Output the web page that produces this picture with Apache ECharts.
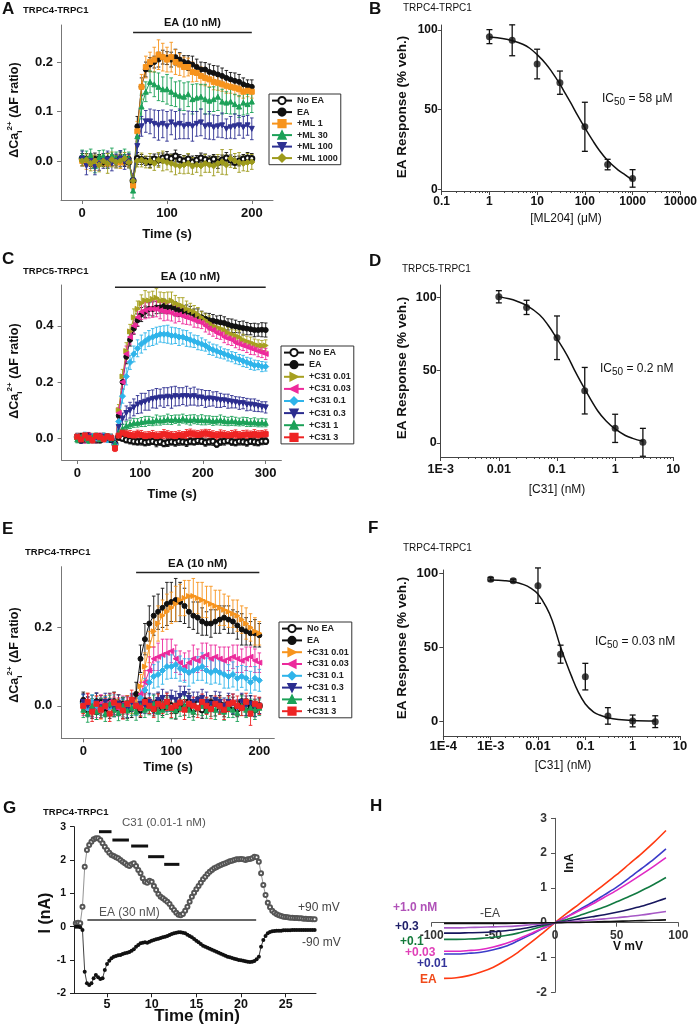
<!DOCTYPE html>
<html><head><meta charset="utf-8">
<script src="https://cdn.jsdelivr.net/npm/echarts@6/dist/echarts.min.js"></script>
<style>html,body{margin:0;padding:0;background:#fff}#c{width:700px;height:1028px}</style>
</head><body><div id="c"></div>
<script>
// ---------- Panel A data (TRPC4-TRPC1, ML204) ----------
const tA = [0,5,10,15,20,25,30,35,40,45,50,55,60,65,70,75,80,85,90,95,100,105,110,115,120,125,130,135,140,145,150,155,160,165,170,175,180,185,190,195,200];
const aNoEA = [0.005,0.0,0.003,-0.002,0.004,0.0,-0.003,0.002,0.0,0.004, 0.001,-0.002,-0.04,0.005,0.003,0.0,-0.002,0.004,0.002,0.006, 0.008,0.005,0.01,0.003,0.0,0.004,-0.002,0.002,0.006,0.003, 0.0,0.004,-0.003,0.002,0.006,0.002,-0.003,0.0,0.004,0.006, 0.005];
const aEA = [0.003,0.005,-0.002,0.004,0.002,-0.003,0.005,0.0,0.003,0.006, 0.0,0.004,-0.045,0.07,0.15,0.185,0.195,0.2,0.205,0.21, 0.208,0.205,0.21,0.205,0.2,0.198,0.195,0.19,0.185,0.185, 0.18,0.178,0.175,0.172,0.168,0.165,0.162,0.16,0.155,0.152, 0.15];
const aML1 = [0.0,-0.005,0.005,-0.008,0.0,0.003,-0.005,0.002,0.0,-0.003, 0.002,0.0,-0.05,0.06,0.15,0.19,0.2,0.205,0.215,0.21, 0.205,0.21,0.2,0.195,0.19,0.19,0.18,0.178,0.172,0.168, 0.165,0.16,0.158,0.155,0.152,0.15,0.148,0.145,0.14,0.142, 0.14];
const aML30 = [0.01,0.005,0.012,-0.01,0.008,0.01,0.0,0.012,0.005,0.008, 0.01,0.005,-0.06,0.05,0.11,0.14,0.16,0.155,0.15,0.145, 0.145,0.14,0.135,0.132,0.13,0.135,0.125,0.128,0.13,0.125, 0.122,0.125,0.13,0.12,0.118,0.12,0.115,0.11,0.118,0.115, 0.12];
const aML100 = [0.005,-0.01,0.0,-0.012,-0.005,0.0,0.003,-0.005,0.0,0.005, -0.002,0.0,-0.04,0.03,0.07,0.08,0.08,0.075,0.072,0.075, 0.07,0.078,0.072,0.075,0.07,0.073,0.07,0.075,0.078,0.07, 0.072,0.068,0.07,0.072,0.065,0.068,0.07,0.072,0.068,0.072, 0.065];
const aML1000 = [0.0,0.002,-0.005,0.0,-0.008,0.0,-0.005,0.003,-0.002,0.0, 0.005,-0.003,-0.04,0.0,0.002,-0.002,0.0,-0.005,0.002,0.0, -0.003,-0.005,-0.008,-0.01,-0.008,-0.005,-0.01,-0.008,-0.01,-0.005, -0.008,-0.01,-0.005,-0.002,-0.008,0.005,0.0,-0.003,-0.005,-0.003, -0.002];
const aErrNoEA = [.01,.008,.01,.012,.009,.01,.008,.011,.01,.009, .012,.01,.01,.012,.01,.009,.011,.01,.012,.01, .011,.009,.012,.01,.011,.01,.012,.009,.01,.011, .01,.009,.012,.01,.011,.01,.012,.01,.009,.011, .01];
const aErrEA = [.008,.01,.009,.012,.01,.008,.011,.01,.009,.012, .01,.01,.012,.02,.018,.015,.014,.012,.015,.014, .013,.015,.016,.014,.013,.015,.017,.016,.015,.014, .016,.015,.017,.016,.015,.014,.016,.015,.013,.012, .014];
const aErrML1 = [.01,.012,.01,.011,.009,.012,.01,.011,.01,.012, .01,.011,.012,.02,.025,.022,.02,.025,.03,.028, .025,.03,.025,.022,.02,.018,.02,.017,.018,.016, .015,.016,.015,.014,.015,.013,.014,.015,.013,.012, .013];
const aErrML30 = [.012,.015,.012,.014,.013,.012,.015,.014,.013,.012, .014,.013,.015,.02,.025,.02,.022,.025,.028,.025, .03,.028,.025,.03,.028,.025,.03,.028,.025,.03, .027,.025,.028,.025,.022,.025,.02,.022,.025,.02, .022];
const aErrML100 = [.015,.018,.015,.016,.014,.015,.017,.015,.014,.016, .015,.014,.015,.02,.02,.022,.025,.028,.03,.028, .03,.025,.028,.03,.025,.028,.03,.025,.027,.025, .028,.025,.022,.025,.02,.022,.025,.02,.022,.02, .022];
const aErrML1000 = [.01,.012,.015,.012,.014,.012,.02,.015,.012,.014, .012,.011,.012,.012,.014,.012,.015,.014,.015,.02, .015,.017,.02,.015,.018,.02,.017,.015,.02,.018, .015,.02,.018,.025,.02,.018,.015,.02,.015,.018, .015];

// ---------- Panel C data (TRPC5-TRPC1, C31) ----------
const tC = [0,6,12,18,24,30,36,42,48,54, 60,66,72,78,84,90,96,102,108,114, 120,126,132,138,144,150,156,162,168,174, 180,186,192,198,204,210,216,222,228,234, 240,246,252,258,264,270,276,282,288,294, 300];
const cNoEA = [0.005,-0.005,0.0,0.008,-0.003,0.004,-0.006,0.002,0.0,-0.004, -0.02,0.005,0.0,-0.005,-0.008,-0.01,-0.012,-0.01,-0.015,-0.012, -0.01,-0.015,-0.012,-0.018,-0.015,-0.012,-0.015,-0.01,-0.012,-0.015, -0.01,-0.012,-0.008,-0.01,-0.015,-0.012,-0.01,-0.02,-0.012,-0.01, -0.008,-0.012,-0.015,-0.01,-0.012,-0.015,-0.01,-0.012,-0.015,-0.01, -0.01];
const cEA = [0.0,0.008,-0.004,0.005,0.0,-0.005,0.006,0.0,0.004,-0.003, -0.025,0.08,0.2,0.29,0.35,0.39,0.42,0.44,0.45,0.46, 0.46,0.465,0.465,0.47,0.465,0.465,0.46,0.455,0.452,0.45, 0.447,0.44,0.435,0.43,0.425,0.42,0.418,0.415,0.412,0.41, 0.405,0.4,0.398,0.395,0.392,0.39,0.388,0.385,0.385,0.386, 0.385];
const cC001 = [0.005,-0.003,0.008,0.0,0.006,-0.004,0.003,0.007,-0.002,0.004, -0.03,0.1,0.22,0.31,0.38,0.43,0.46,0.48,0.49,0.49, 0.495,0.5,0.49,0.49,0.485,0.49,0.48,0.475,0.47,0.46, 0.455,0.45,0.44,0.43,0.42,0.41,0.4,0.395,0.39,0.385, 0.375,0.37,0.365,0.36,0.35,0.345,0.34,0.335,0.33,0.33, 0.33];
const cC003 = [0.0,0.006,-0.005,0.01,0.002,-0.004,0.008,-0.002,0.005,0.0, -0.03,0.09,0.2,0.3,0.36,0.4,0.43,0.45,0.455,0.46, 0.46,0.46,0.455,0.45,0.45,0.445,0.44,0.44,0.435,0.43, 0.425,0.42,0.415,0.41,0.4,0.39,0.385,0.375,0.37,0.36, 0.355,0.35,0.34,0.335,0.33,0.325,0.32,0.315,0.31,0.305, 0.3];
const cC01 = [0.008,0.0,0.01,-0.004,0.006,0.0,0.004,0.008,-0.003,0.005, -0.02,0.06,0.15,0.22,0.27,0.3,0.32,0.335,0.345,0.355, 0.36,0.365,0.37,0.37,0.37,0.365,0.365,0.36,0.36,0.355, 0.35,0.345,0.34,0.335,0.33,0.32,0.315,0.31,0.305,0.3, 0.295,0.29,0.285,0.28,0.275,0.27,0.265,0.26,0.26,0.255, 0.255];
const cC03 = [0.004,-0.006,0.002,0.006,-0.004,0.003,-0.002,0.005,0.0,-0.005, -0.025,0.04,0.07,0.09,0.1,0.11,0.12,0.125,0.13,0.135, 0.14,0.142,0.145,0.145,0.148,0.145,0.15,0.148,0.15,0.15, 0.148,0.15,0.145,0.145,0.14,0.142,0.14,0.138,0.135,0.135, 0.132,0.13,0.128,0.125,0.125,0.12,0.12,0.118,0.115,0.112, 0.11];
const cC1 = [-0.004,0.005,0.0,-0.006,0.004,0.008,-0.003,0.002,0.006,0.0, -0.02,0.02,0.035,0.045,0.05,0.055,0.055,0.058,0.06,0.062, 0.06,0.065,0.063,0.065,0.068,0.065,0.068,0.065,0.07,0.066, 0.065,0.068,0.065,0.066,0.064,0.065,0.062,0.063,0.065,0.062, 0.06,0.062,0.06,0.058,0.06,0.058,0.056,0.058,0.055,0.056, 0.055];
const cC3 = [0.006,-0.004,0.01,0.002,-0.006,0.008,0.004,-0.002,0.006,0.002, -0.035,0.01,0.02,0.015,0.012,0.01,0.015,0.012,0.008,0.01, 0.012,0.008,0.01,0.015,0.012,0.01,0.008,0.012,0.01,0.015, 0.018,0.015,0.012,0.015,0.018,0.015,0.012,0.01,0.014,0.012, 0.01,0.012,0.015,0.01,0.012,0.014,0.012,0.015,0.012,0.014, 0.015];
const cErrNoEA = [.01,.012,.01,.011,.01,.012,.01,.011,.012,.01, .01,.012,.01,.011,.012,.013,.012,.014,.012,.013, .012,.015,.013,.012,.014,.012,.013,.015,.012,.014, .013,.012,.014,.012,.013,.012,.015,.012,.013,.014, .012,.013,.012,.014,.012,.013,.012,.014,.012,.013, .012];
const cErrEA = [.012,.01,.012,.011,.01,.012,.011,.01,.012,.011, .012,.02,.025,.025,.022,.02,.022,.025,.02,.022, .025,.022,.02,.025,.022,.02,.025,.022,.02,.024, .022,.02,.025,.022,.02,.024,.022,.02,.025,.022, .02,.024,.022,.02,.025,.022,.02,.024,.022,.025, .025];
const cErrC001 = [.01,.012,.01,.011,.012,.01,.011,.012,.01,.011, .012,.02,.025,.03,.025,.03,.028,.03,.035,.03, .028,.032,.03,.028,.035,.03,.028,.025,.03,.028, .025,.022,.025,.02,.022,.025,.02,.022,.02,.022, .02,.018,.02,.022,.02,.018,.02,.018,.02,.018, .02];
const cErrC003 = [.012,.01,.012,.011,.01,.012,.011,.01,.012,.011, .012,.02,.025,.028,.025,.028,.03,.028,.03,.032, .03,.028,.03,.032,.03,.028,.03,.025,.028,.025, .022,.025,.022,.02,.022,.02,.022,.02,.018,.02, .022,.02,.018,.02,.018,.02,.022,.018,.02,.018, .02];
const cErrC01 = [.01,.011,.012,.01,.011,.012,.01,.011,.012,.01, .012,.02,.025,.03,.025,.028,.03,.032,.03,.028, .03,.03,.028,.03,.032,.03,.028,.03,.025,.028, .025,.022,.025,.022,.02,.022,.02,.022,.02,.018, .02,.018,.02,.018,.02,.018,.02,.018,.016,.018, .016];
const cErrC03 = [.01,.012,.011,.01,.012,.011,.01,.012,.011,.01, .012,.015,.02,.025,.028,.03,.032,.035,.03,.035, .032,.035,.03,.035,.032,.038,.035,.032,.03,.035, .03,.032,.03,.028,.03,.028,.025,.028,.025,.022, .025,.022,.02,.022,.02,.022,.02,.022,.02,.018, .02];
const cErrC1 = [.012,.01,.011,.012,.01,.011,.012,.01,.011,.012, .01,.012,.015,.014,.015,.016,.015,.016,.018,.016, .015,.018,.016,.015,.018,.016,.015,.018,.016,.015, .018,.016,.015,.018,.016,.015,.016,.015,.018,.016, .015,.016,.015,.014,.015,.016,.014,.015,.014,.015, .014];
const cErrC3 = [.012,.011,.01,.012,.011,.01,.012,.011,.01,.012, .012,.014,.015,.014,.016,.015,.014,.016,.015,.014, .016,.015,.014,.016,.015,.014,.016,.015,.014,.016, .015,.014,.016,.015,.014,.016,.015,.014,.016,.015, .014,.016,.015,.014,.016,.015,.014,.016,.015,.014, .015];

// ---------- Panel E data (TRPC4-TRPC1, C31) ----------
const tE = [0,5,10,15,20,25,30,35,40,45,50,55,60,65,70,75,80,85,90,95,100,105,110,115,120,125,130,135,140,145,150,155,160,165,170,175,180,185,190,195,200];
const eNoEA = [0.01,-0.01,0.005,-0.015,0.008,0.0,-0.012,0.01,-0.005,0.003, -0.01,0.005,0.0,-0.01,0.012,0.0,-0.008,0.01,-0.005,0.008, 0.0,-0.012,0.006,-0.004,0.01,-0.008,0.005,-0.01,0.0,0.008, -0.006,0.004,-0.01,0.006,0.0,-0.008,0.01,-0.004,0.006,-0.01, 0.0];
const eEA = [0.015,0.005,-0.01,0.012,0.0,-0.008,0.01,-0.005,0.008,-0.01, 0.005,-0.005,0.03,0.12,0.17,0.21,0.23,0.24,0.25,0.26, 0.265,0.27,0.265,0.255,0.24,0.23,0.225,0.215,0.21,0.21, 0.215,0.22,0.225,0.22,0.215,0.205,0.195,0.19,0.185,0.185, 0.18];
const eC001 = [0.0,0.01,-0.008,0.005,-0.012,0.008,0.0,-0.005,0.01,-0.008, 0.004,0.0,0.01,0.05,0.1,0.15,0.19,0.21,0.23,0.24, 0.25,0.26,0.27,0.275,0.28,0.28,0.275,0.27,0.265,0.26, 0.255,0.25,0.245,0.24,0.235,0.23,0.22,0.21,0.2,0.19, 0.185];
const eC003 = [-0.005,0.008,0.0,-0.01,0.006,-0.004,0.01,0.0,-0.008,0.005, 0.0,0.01,0.0,0.03,0.06,0.09,0.12,0.125,0.13,0.135, 0.14,0.12,0.11,0.1,0.11,0.12,0.115,0.125,0.13,0.12, 0.125,0.12,0.115,0.12,0.125,0.12,0.115,0.12,0.125,0.115, 0.11];
const eC01 = [0.006,-0.006,0.01,0.0,-0.01,0.005,-0.004,0.008,0.0,-0.006, 0.004,0.01,0.0,0.02,0.04,0.06,0.075,0.08,0.09,0.1, 0.1,0.105,0.095,0.09,0.085,0.09,0.095,0.1,0.09,0.085, 0.09,0.085,0.08,0.075,0.08,0.07,0.075,0.07,0.06,0.07, 0.065];
const eC03 = [0.01,0.0,-0.01,0.008,-0.004,0.01,0.0,-0.008,0.006,0.0, -0.01,0.008,0.0,0.005,0.0,0.01,0.005,0.015,0.02,0.01, 0.02,0.015,0.025,0.03,0.02,0.01,0.015,0.02,0.01,0.005, 0.015,0.01,0.0,0.01,0.005,-0.005,0.01,0.0,0.005,-0.005, 0.0];
const eC1 = [-0.01,-0.02,0.0,-0.015,-0.005,-0.02,0.005,-0.01,-0.018,0.0, -0.012,-0.005,-0.015,0.0,-0.01,-0.005,0.005,-0.015,-0.01,0.0, -0.008,-0.012,-0.005,0.0,-0.01,-0.015,-0.005,0.0,-0.012,-0.005, -0.01,0.0,-0.015,-0.005,-0.01,-0.018,0.0,-0.01,-0.005,-0.01, -0.005];
const eC3 = [0.0,0.01,-0.015,0.005,-0.01,0.0,-0.02,0.008,0.0,-0.012, 0.005,0.015,0.0,-0.005,0.01,0.0,-0.008,0.005,0.0,0.01, -0.005,0.0,0.008,-0.01,0.005,0.0,-0.005,0.01,0.0,-0.008, 0.005,0.0,-0.01,0.005,0.008,0.0,-0.005,0.01,-0.02,0.005, 0.0];
const eErrNoEA = [.02,.018,.022,.02,.018,.022,.02,.025,.02,.018, .022,.02,.018,.02,.022,.02,.018,.022,.02,.018, .02,.022,.018,.02,.022,.02,.018,.022,.02,.018, .02,.022,.018,.02,.022,.02,.018,.022,.02,.018, .02];
const eErrEA = [.02,.018,.022,.02,.018,.02,.022,.018,.02,.022, .02,.025,.03,.035,.04,.045,.05,.045,.05,.055, .05,.055,.05,.045,.04,.035,.04,.035,.03,.035, .03,.035,.03,.035,.03,.035,.04,.035,.03,.035, .03];
const eErrC001 = [.02,.022,.018,.02,.022,.018,.02,.022,.018,.02, .022,.02,.025,.03,.035,.04,.04,.045,.04,.045, .04,.045,.04,.045,.04,.045,.04,.045,.04,.045, .04,.045,.04,.04,.035,.04,.035,.04,.035,.035, .03];
const eErrC003 = [.02,.022,.018,.02,.022,.018,.02,.022,.018,.02, .022,.02,.025,.03,.03,.035,.03,.035,.04,.035, .03,.035,.03,.035,.03,.035,.03,.035,.03,.035, .03,.03,.035,.03,.03,.035,.03,.03,.025,.03, .025];
const eErrC01 = [.022,.02,.018,.022,.02,.018,.022,.02,.018,.022, .02,.022,.025,.03,.03,.032,.03,.032,.035,.032, .03,.035,.032,.03,.035,.032,.03,.035,.032,.03, .032,.03,.035,.03,.032,.03,.028,.03,.028,.03, .028];
const eErrC03 = [.02,.022,.018,.025,.02,.022,.018,.02,.022,.018, .02,.022,.02,.025,.02,.022,.025,.02,.022,.025, .02,.022,.025,.02,.022,.025,.02,.022,.025,.02, .022,.025,.02,.022,.025,.02,.022,.025,.02,.022, .02];
const eErrC1 = [.02,.022,.018,.02,.025,.02,.022,.018,.02,.022, .025,.02,.022,.025,.02,.018,.022,.025,.02,.022, .025,.02,.022,.025,.02,.022,.018,.025,.02,.022, .025,.02,.022,.025,.02,.022,.025,.02,.022,.025, .02];
const eErrC3 = [.02,.022,.025,.02,.022,.018,.02,.025,.02,.022, .02,.025,.02,.022,.025,.02,.022,.025,.02,.022, .025,.02,.022,.025,.02,.022,.025,.02,.022,.025, .02,.022,.025,.02,.022,.025,.02,.022,.03,.02, .022];

// ---------- Dose-response data (B, D, F) ----------
const bConc = [1,3,10,30,100,300,1000];
const bResp = [95.8,93.5,78.6,66.9,39.2,15.5,6.8];
const bErr  = [4.4,9.7,9.3,7.3,15.4,3.3,5.5];
const bFitX = [1,2,3,5,7,10,15,20,30,40,50,70,100,150,200,300,500,700,1000];
const bFitY = [95.5,94.5,93.3,91,88.5,84.5,79,74,66,59.5,54.5,46.5,38.5,30,24.5,18,12,9,5.5];
const dConc = [0.01,0.03,0.1,0.3,1,3];
const dResp = [100.4,93.1,72.2,35.8,9.9,0.3];
const dErr  = [4.2,4.9,15,16,9.7,9.6];
const dFitX = [0.01,0.015,0.02,0.03,0.05,0.07,0.1,0.15,0.2,0.3,0.5,0.7,1,1.5,2,3];
const dFitY = [100.5,99,97.5,94.5,88,81,71.5,60,50,37,22,15,9.5,5,3,1];
const fConc = [0.001,0.003,0.01,0.03,0.1,0.3,1,3];
const fResp = [96,95,91.6,45.2,30,3.4,0,-0.5];
const fErr  = [1.2,1,12,6.1,9,5.6,4,4];
const fFitX = [0.001,0.002,0.003,0.005,0.007,0.01,0.015,0.02,0.03,0.04,0.05,0.07,0.1,0.15,0.2,0.3,0.5,1,3];
const fFitY = [95.5,95,94.3,92.3,90,86,77,68,50,39,31,20,11.5,6,4,2.2,1,0.3,0];

// ---------- Panel G data (currents at +90 / -90 mV, [min, nA]) ----------
const gPos = [[1.5,0.1],[1.75,0.12],[2,0.1],[2.25,0.6],[2.5,1.8],[2.75,2.3],[3,2.45],[3.25,2.55],[3.5,2.62],[3.75,2.65],[4,2.65],[4.25,2.6],[4.5,2.5],[4.75,2.4],[5,2.3],[5.25,2.22],[5.5,2.15],[5.75,2.12],[6,2.08],[6.25,2.05],[6.5,2.0],[6.75,1.95],[7,1.9],[7.25,1.85],[7.5,1.82],[7.75,1.87],[8,1.9],[8.25,1.82],[8.5,1.7],[8.75,1.6],[9,1.45],[9.25,1.35],[9.5,1.32],[9.75,1.38],[10,1.35],[10.25,1.22],[10.5,1.1],[10.75,0.98],[11,0.9],[11.25,0.85],[11.5,0.8],[11.75,0.75],[12,0.68],[12.25,0.58],[12.5,0.5],[12.75,0.42],[13,0.36],[13.25,0.34],[13.5,0.38],[13.75,0.48],[14,0.6],[14.25,0.75],[14.5,0.9],[14.75,1.02],[15,1.12],[15.25,1.22],[15.5,1.32],[15.75,1.42],[16,1.5],[16.25,1.58],[16.5,1.65],[16.75,1.7],[17,1.75],[17.25,1.78],[17.5,1.82],[17.75,1.85],[18,1.88],[18.25,1.9],[18.5,1.93],[18.75,1.96],[19,1.98],[19.25,2.0],[19.5,2.02],[19.75,2.02],[20,2.03],[20.25,2.02],[20.5,2.0],[20.75,2.02],[21,2.03],[21.25,2.05],[21.5,2.1],[21.75,2.08],[22,1.95],[22.25,1.6],[22.5,1.25],[22.75,0.95],[23,0.72],[23.25,0.58],[23.5,0.48],[23.75,0.42],[24,0.37],[24.25,0.34],[24.5,0.32],[24.75,0.3],[25,0.29],[25.25,0.28],[25.5,0.27],[25.75,0.27],[26,0.26],[26.25,0.26],[26.5,0.25],[26.75,0.25],[27,0.24],[27.25,0.24],[27.5,0.23],[27.75,0.23],[28,0.22],[28.25,0.22]];
const gNeg = [[1.5,0],[1.75,0],[2,-0.02],[2.25,-0.1],[2.5,-1.35],[2.75,-1.7],[3,-1.75],[3.25,-1.7],[3.5,-1.55],[3.75,-1.45],[4,-1.52],[4.25,-1.57],[4.5,-1.55],[4.75,-1.3],[5,-1.12],[5.25,-1.02],[5.5,-0.95],[5.75,-0.9],[6,-0.88],[6.25,-0.86],[6.5,-0.85],[6.75,-0.82],[7,-0.8],[7.25,-0.78],[7.5,-0.76],[7.75,-0.72],[8,-0.68],[8.25,-0.6],[8.5,-0.55],[8.75,-0.5],[9,-0.48],[9.25,-0.47],[9.5,-0.48],[9.75,-0.45],[10,-0.42],[10.25,-0.4],[10.5,-0.38],[10.75,-0.36],[11,-0.34],[11.25,-0.32],[11.5,-0.3],[11.75,-0.28],[12,-0.25],[12.25,-0.22],[12.5,-0.2],[12.75,-0.18],[13,-0.17],[13.25,-0.17],[13.5,-0.18],[13.75,-0.2],[14,-0.24],[14.25,-0.28],[14.5,-0.32],[14.75,-0.37],[15,-0.42],[15.25,-0.47],[15.5,-0.52],[15.75,-0.57],[16,-0.6],[16.25,-0.63],[16.5,-0.66],[16.75,-0.69],[17,-0.72],[17.25,-0.75],[17.5,-0.78],[17.75,-0.81],[18,-0.84],[18.25,-0.87],[18.5,-0.9],[18.75,-0.92],[19,-0.94],[19.25,-0.96],[19.5,-0.98],[19.75,-1.0],[20,-1.01],[20.25,-1.02],[20.5,-1.04],[20.75,-1.05],[21,-1.06],[21.25,-1.05],[21.5,-1.03],[21.75,-0.98],[22,-0.9],[22.25,-0.6],[22.5,-0.4],[22.75,-0.28],[23,-0.2],[23.25,-0.16],[23.5,-0.14],[23.75,-0.13],[24,-0.12],[24.25,-0.12],[24.5,-0.12],[24.75,-0.11],[25,-0.11],[25.25,-0.11],[25.5,-0.11],[25.75,-0.1],[26,-0.1],[26.25,-0.1],[26.5,-0.1],[26.75,-0.1],[27,-0.1],[27.25,-0.1],[27.5,-0.1],[27.75,-0.1],[28,-0.1],[28.25,-0.1]];
const gC31Bars = [[4.1,5.5,2.85],[5.6,7.45,2.6],[7.7,9.6,2.42],[9.6,11.4,2.1],[11.4,13.1,1.87]];
const gEABar = [[2.8,21.7,0.2]];

// ---------- Panel H data (I-V curves) ----------
const hV = [-90,-80,-70,-60,-50,-40,-30,-20,-10,0,10,20,30,40,50,60,70,80,90];
const hEA   = [-1.6,-1.58,-1.52,-1.42,-1.28,-1.08,-0.85,-0.58,-0.3,0,0.28,0.55,0.83,1.1,1.38,1.68,1.98,2.3,2.65];
const h001  = [-0.9,-0.9,-0.88,-0.85,-0.78,-0.68,-0.52,-0.35,-0.17,0,0.18,0.38,0.58,0.8,1.02,1.28,1.55,1.82,2.12];
const h003  = [-0.82,-0.82,-0.8,-0.77,-0.7,-0.6,-0.47,-0.32,-0.16,0,0.17,0.35,0.53,0.73,0.93,1.15,1.38,1.62,1.87];
const h01   = [-0.48,-0.48,-0.47,-0.45,-0.42,-0.37,-0.3,-0.2,-0.1,0,0.1,0.21,0.33,0.45,0.6,0.75,0.92,1.1,1.3];
const h03   = [-0.3,-0.3,-0.29,-0.28,-0.26,-0.23,-0.19,-0.13,-0.06,0,0.05,0.11,0.17,0.23,0.3,0.38,0.47,0.58,0.7];
const h1    = [-0.15,-0.15,-0.14,-0.13,-0.12,-0.11,-0.09,-0.06,-0.03,0,0.02,0.05,0.08,0.11,0.14,0.18,0.22,0.27,0.32];
const hNoEA = [-0.02,-0.02,-0.02,-0.02,-0.02,-0.02,-0.015,-0.01,-0.005,0,0.005,0.01,0.02,0.03,0.04,0.05,0.06,0.07,0.08];

// ---------- tick labels ----------
const ticksA_x = [0,100,200], ticksA_y = [0,0.1,0.2];
const ticksC_x = [0,100,200,300], ticksC_y = [0,0.2,0.4];
const ticksE_x = [0,100,200], ticksE_y = [0,0.2];
const ticksResp = [0,50,100];
const ticksB_x = [0.1,1,10,100,1000,10000];
const ticksD_x = [0.001,0.01,0.1,1,10];
const ticksF_x = [0.0001,0.001,0.01,0.1,1,10];
const ticksG_x = [5,10,15,20,25];

// ================== rendering ==================
const FONT = '"Liberation Sans", Arial, Helvetica, sans-serif';
const SYM = {open:'emptyCircle', circ:'circle', sq:'rect', up:'triangle',
  down:'path://M0,0L10,0L5,9Z', right:'path://M0,0L9,5L0,10Z', left:'path://M9,0L0,5L9,10Z', dia:'diamond'};

function errRender(color, cap, lw){
  return function(params, api){
    const x = api.value(0), lo = api.value(1), hi = api.value(2);
    const a = api.coord([x, hi]), b = api.coord([x, lo]);
    const st = {stroke:color, lineWidth:lw||1};
    return {type:'group', children:[
      {type:'line', shape:{x1:a[0],y1:a[1],x2:b[0],y2:b[1]}, style:st},
      {type:'line', shape:{x1:a[0]-cap,y1:a[1],x2:a[0]+cap,y2:a[1]}, style:st},
      {type:'line', shape:{x1:b[0]-cap,y1:b[1],x2:b[0]+cap,y2:b[1]}, style:st}
    ]};
  };
}
function barRender(lw, color, label, font, dy){
  return function(params, api){
    const a = api.coord([api.value(0), api.value(2)]), b = api.coord([api.value(1), api.value(2)]);
    const ch = [{type:'line', shape:{x1:a[0],y1:a[1],x2:b[0],y2:a[1]}, style:{stroke:color, lineWidth:lw}}];
    if (label) ch.push({type:'text', x:(a[0]+b[0])/2, y:a[1]-dy, style:{text:label, font:font, fill:'#111', align:'center', verticalAlign:'middle'}});
    return {type:'group', children:ch};
  };
}
function tsPanel(gi, prefix, times, list){
  const out = [];
  list.forEach(s => {
    out.push({type:'custom', xAxisIndex:gi, yAxisIndex:gi, silent:true, clip:true, z:2,
      data: times.map((t,i)=>[t, s.v[i]-s.e[i], s.v[i]+s.e[i]]), encode:{x:0,y:[1,2]},
      renderItem: errRender(s.color, 1.8, 0.9)});
    out.push({type:'line', name:prefix+s.name, xAxisIndex:gi, yAxisIndex:gi, z:3,
      data: times.map((t,i)=>[t, s.v[i]]), symbol:s.sym, symbolSize:s.size||5,
      lineStyle:{color:s.color, width:1}, itemStyle:{color:s.color, borderColor:s.color, borderWidth:1}});
  });
  return out;
}
function dosePanel(gi, conc, resp, err, fx, fy){
  return [
    {type:'line', xAxisIndex:gi, yAxisIndex:gi, data: fx.map((x,i)=>[x, fy[i]]), smooth:0.4, symbol:'none', lineStyle:{color:'#111', width:1.5}, z:3, silent:true},
    {type:'custom', xAxisIndex:gi, yAxisIndex:gi, silent:true, z:3, data: conc.map((c,i)=>[c, resp[i]-err[i], resp[i]+err[i]]), encode:{x:0,y:[1,2]}, renderItem: errRender('#111', 3, 1.3)},
    {type:'scatter', xAxisIndex:gi, yAxisIndex:gi, data: conc.map((c,i)=>[c, resp[i]]), symbol:'circle', symbolSize:7, itemStyle:{color:'#111'}, z:4, silent:true}
  ];
}
const fmt1 = v => v.toFixed(1);
const fmtLog = v => { const e = Math.round(Math.log10(v)); if (e <= -3) return '1E' + e; return e < 0 ? String(Number(Math.pow(10,e).toFixed(-e))) : String(Math.round(Math.pow(10,e))); };
function ax(gi, min, max, ticks, fmt, o){
  o = o || {};
  const a = {gridIndex:gi, type:o.type||'value', min:min, max:max,
    axisLine:{show:true, onZero:false, lineStyle:{color:o.lc||'#666', width:1}},
    axisTick:{show:true, length:o.tl||4, lineStyle:{color:o.lc||'#666'}},
    axisLabel:{show:true, formatter:fmt, fontSize:o.fs||13, fontWeight:o.fw||'bold', color:o.c||'#111', margin:o.m||6, fontFamily:FONT},
    splitLine:{show:false}, minorTick:{show:false}};
  if (o.interval) a.interval = o.interval;
  if (o.offset) a.offset = o.offset;
  if (ticks){ a.axisTick.customValues = ticks; a.axisLabel.customValues = ticks; }
  return a;
}
function minorAx(gi, min, max, e0, e1){
  const r = [];
  for (let e=e0; e<e1; e++) for (let k=2; k<=9; k++) r.push(k*Math.pow(10,e));
  return {gridIndex:gi, type:'log', min:min, max:max, position:'bottom',
    axisLine:{show:false, onZero:false}, axisLabel:{show:false}, splitLine:{show:false},
    axisTick:{show:true, length:2, customValues:r, lineStyle:{color:'#444'}}};
}
function leg(left, top, names, gap){
  return {left:left, top:top, orient:'vertical', data:names, formatter:n=>n.slice(2), selectedMode:false,
    borderColor:'#333', borderWidth:1, borderRadius:0, padding:[2,3,2,2], itemGap:gap, itemWidth:20, itemHeight:9,
    textStyle:{fontSize:9, fontWeight:'bold', color:'#222', fontFamily:FONT}};
}
function txt(x, y, text, font, o){
  o = o || {};
  const st = {text:text, font:font, fill:o.fill||'#111', align:o.align||'left', verticalAlign:'middle', textAlign:o.align||'left', textVerticalAlign:'middle'};
  if (o.rich) st.rich = o.rich;
  return {type:'text', x:x, y:y, rotation:o.rot||0, style:st, z:100, silent:true};
}

const listA = [
  {name:'No EA', v:aNoEA, e:aErrNoEA, color:'#111', sym:SYM.open},
  {name:'EA', v:aEA, e:aErrEA, color:'#111', sym:SYM.circ},
  {name:'+ML 1', v:aML1, e:aErrML1, color:'#f7941d', sym:SYM.sq},
  {name:'+ML 30', v:aML30, e:aErrML30, color:'#1ca158', sym:SYM.up},
  {name:'+ML 100', v:aML100, e:aErrML100, color:'#2e3192', sym:SYM.down},
  {name:'+ML 1000', v:aML1000, e:aErrML1000, color:'#9d9a1c', sym:SYM.dia, size:6}
];
const listC = [
  {name:'No EA', v:cNoEA, e:cErrNoEA, color:'#111', sym:SYM.open},
  {name:'EA', v:cEA, e:cErrEA, color:'#111', sym:SYM.circ},
  {name:'+C31 0.01', v:cC001, e:cErrC001, color:'#a7a020', sym:SYM.right},
  {name:'+C31 0.03', v:cC003, e:cErrC003, color:'#ee2a9b', sym:SYM.left},
  {name:'+C31 0.1', v:cC01, e:cErrC01, color:'#2fb4ea', sym:SYM.dia, size:6},
  {name:'+C31 0.3', v:cC03, e:cErrC03, color:'#2b2d8f', sym:SYM.down},
  {name:'+C31 1', v:cC1, e:cErrC1, color:'#1ca158', sym:SYM.up},
  {name:'+C31 3', v:cC3, e:cErrC3, color:'#ee2424', sym:SYM.sq}
];
const listE = [
  {name:'No EA', v:eNoEA, e:eErrNoEA, color:'#111', sym:SYM.open},
  {name:'EA', v:eEA, e:eErrEA, color:'#111', sym:SYM.circ},
  {name:'+C31 0.01', v:eC001, e:eErrC001, color:'#f7941d', sym:SYM.right},
  {name:'+C31 0.03', v:eC003, e:eErrC003, color:'#ec2a9c', sym:SYM.left},
  {name:'+C31 0.1', v:eC01, e:eErrC01, color:'#2fb4ea', sym:SYM.dia, size:6},
  {name:'+C31 0.3', v:eC03, e:eErrC03, color:'#2b2d8f', sym:SYM.down},
  {name:'+C31 1', v:eC1, e:eErrC1, color:'#1ca158', sym:SYM.up},
  {name:'+C31 3', v:eC3, e:eErrC3, color:'#ee2424', sym:SYM.sq}
];
const hList = [
  {v:hEA, color:'#ff3a12'}, {v:h001, color:'#3b3bc9'}, {v:h003, color:'#e029c4'},
  {v:h01, color:'#127a42'}, {v:h03, color:'#17175e'}, {v:h1, color:'#a658c6'}, {v:hNoEA, color:'#111'}
];

const series = [].concat(
  tsPanel(0, 'A:', tA, listA),
  tsPanel(2, 'C:', tC, listC),
  tsPanel(4, 'E:', tE, listE),
  dosePanel(1, bConc, bResp, bErr, bFitX, bFitY),
  dosePanel(3, dConc, dResp, dErr, dFitX, dFitY),
  dosePanel(5, fConc, fResp, fErr, fFitX, fFitY),
  [
    {type:'custom', xAxisIndex:0, yAxisIndex:0, silent:true, clip:false, z:5, data:[[60,200,0.26]], renderItem: barRender(1.5,'#222','EA (10 nM)','bold 11px '+FONT, 9)},
    {type:'custom', xAxisIndex:2, yAxisIndex:2, silent:true, clip:false, z:5, data:[[60,300,0.537]], renderItem: barRender(1.5,'#222','EA (10 nM)','bold 11.5px '+FONT, 10)},
    {type:'custom', xAxisIndex:4, yAxisIndex:4, silent:true, clip:false, z:5, data:[[60,200,0.34]], renderItem: barRender(1.5,'#222','EA (10 nM)','bold 11.5px '+FONT, 9)},
    {type:'line', xAxisIndex:6, yAxisIndex:6, data:gPos, symbol:'emptyCircle', symbolSize:4, silent:true,
      lineStyle:{color:'#777', width:0.8}, itemStyle:{color:'#555', borderWidth:0.8}, z:3},
    {type:'line', xAxisIndex:6, yAxisIndex:6, data:gNeg, symbol:'circle', symbolSize:4, silent:true,
      lineStyle:{color:'#111', width:0.8}, itemStyle:{color:'#111'}, z:3},
    {type:'custom', xAxisIndex:6, yAxisIndex:6, silent:true, clip:false, z:4, data:gC31Bars, renderItem: barRender(3,'#111')},
    {type:'custom', xAxisIndex:6, yAxisIndex:6, silent:true, clip:false, z:4, data:gEABar, renderItem: barRender(1.3,'#333')}
  ],
  hList.map(h => ({type:'line', xAxisIndex:7, yAxisIndex:7, data:hV.map((v,i)=>[v, h.v[i]]), smooth:0.3, symbol:'none', silent:true, lineStyle:{color:h.color, width:1.6}, z:3}))
);

const yLabRich = {
  b:{font:'bold 12.5px '+FONT, fill:'#111', lineHeight:18, verticalAlign:'middle'},
  sp:{font:'bold 8px '+FONT, fill:'#111', lineHeight:18, verticalAlign:'top'},
  sb:{font:'bold 8px '+FONT, fill:'#111', lineHeight:18, verticalAlign:'bottom'}
};
const yLab = '{b|ΔCa}{sb|i}{sp|2+}{b| (ΔF ratio)}';
const icRich = {n:{font:'12px '+FONT, fill:'#111', lineHeight:16, verticalAlign:'middle'}, s:{font:'10px '+FONT, fill:'#111', lineHeight:16, verticalAlign:'bottom'}};
const R = -Math.PI/2;

const graphics = [
  txt(2, 9, 'A', 'bold 17px '+FONT), txt(23, 10, 'TRPC4-TRPC1', 'bold 9.5px '+FONT),
  txt(369, 9, 'B', 'bold 17px '+FONT), txt(403, 8, 'TRPC4-TRPC1', '10px '+FONT),
  txt(2, 259, 'C', 'bold 17px '+FONT), txt(23, 271, 'TRPC5-TRPC1', 'bold 9.5px '+FONT),
  txt(369, 261, 'D', 'bold 17px '+FONT), txt(402, 269, 'TRPC5-TRPC1', '10px '+FONT),
  txt(2, 529, 'E', 'bold 17px '+FONT), txt(25, 552, 'TRPC4-TRPC1', 'bold 9.5px '+FONT),
  txt(368, 528, 'F', 'bold 17px '+FONT), txt(403, 548, 'TRPC4-TRPC1', '10px '+FONT),
  txt(3, 808, 'G', 'bold 17px '+FONT), txt(43, 812, 'TRPC4-TRPC1', 'bold 9.5px '+FONT),
  txt(370, 806, 'H', 'bold 17px '+FONT),
  // axis names
  txt(15, 110, yLab, 'bold 12.5px '+FONT, {align:'center', rot:-R, rich:yLabRich}),
  txt(167, 234, 'Time (s)', 'bold 13px '+FONT, {align:'center'}),
  txt(15, 371, yLab, 'bold 12.5px '+FONT, {align:'center', rot:-R, rich:yLabRich}),
  txt(172, 494, 'Time (s)', 'bold 13px '+FONT, {align:'center'}),
  txt(15, 655, yLab, 'bold 12.5px '+FONT, {align:'center', rot:-R, rich:yLabRich}),
  txt(168, 767, 'Time (s)', 'bold 13px '+FONT, {align:'center'}),
  txt(402, 107, 'EA Response (% veh.)', 'bold 13.5px '+FONT, {align:'center', rot:-R}),
  txt(566, 219, '[ML204] (μM)', '12px '+FONT, {align:'center'}),
  txt(402, 368, 'EA Response (% veh.)', 'bold 13.5px '+FONT, {align:'center', rot:-R}),
  txt(557, 490, '[C31] (nM)', '12px '+FONT, {align:'center'}),
  txt(402, 648, 'EA Response (% veh.)', 'bold 13.5px '+FONT, {align:'center', rot:-R}),
  txt(563, 766, '[C31] (nM)', '12px '+FONT, {align:'center'}),
  txt(46, 913, 'I (nA)', 'bold 16px '+FONT, {align:'center', rot:-R}),
  txt(197, 1016, 'Time (min)', 'bold 17px '+FONT, {align:'center'}),
  txt(570, 863, 'InA', 'bold 12px '+FONT, {align:'center', rot:-R}),
  txt(628, 947, 'V mV', 'bold 12px '+FONT, {align:'center'}),
  // IC50
  txt(602, 99, '{n|IC}{s|50}{n| = 58 μM}', '12px '+FONT, {rich:icRich}),
  txt(600, 369, '{n|IC}{s|50}{n| = 0.2 nM}', '12px '+FONT, {rich:icRich}),
  txt(595, 642, '{n|IC}{s|50}{n| = 0.03 nM}', '12px '+FONT, {rich:icRich}),
  // G annotations
  txt(122, 823, 'C31 (0.01-1 nM)', '11.5px '+FONT, {fill:'#555'}),
  txt(99, 913, 'EA (30 nM)', '12px '+FONT, {fill:'#555'}),
  txt(298, 908, '+90 mV', '12px '+FONT, {fill:'#444'}),
  txt(302, 943, '-90 mV', '12px '+FONT, {fill:'#444'}),
  // H labels
  txt(393, 908, '+1.0 nM', 'bold 12px '+FONT, {fill:'#b052b8'}),
  txt(480, 914, '-EA', '12px '+FONT, {fill:'#444'}),
  txt(395, 927, '+0.3', 'bold 12px '+FONT, {fill:'#20206a'}),
  txt(400, 942, '+0.1', 'bold 12px '+FONT, {fill:'#137a3a'}),
  txt(405, 953, '+0.03', 'bold 12px '+FONT, {fill:'#e040b8'}),
  txt(417, 964, '+0.01', 'bold 12px '+FONT, {fill:'#34349a'}),
  txt(420, 980, 'EA', 'bold 12px '+FONT, {fill:'#f04a1a'})
];

const option = {
  animation:false,
  backgroundColor:'#fff',
  textStyle:{fontFamily:FONT},
  grid:[
    {left:61, top:25, width:212, height:175},
    {left:441.7, top:25, width:240, height:166},
    {left:61.6, top:285, width:219.8, height:175},
    {left:440.7, top:285, width:232.6, height:172},
    {left:61.3, top:566.7, width:213, height:171.6},
    {left:443.3, top:570, width:236.7, height:166},
    {left:74, top:826.7, width:242, height:166.6},
    {left:431.7, top:818.3, width:246.6, height:174}
  ],
  xAxis:[
    ax(0, -25, 225, ticksA_x, String, {lc:'#777', m:7}),
    ax(1, 0.1, 10000, ticksB_x, fmtLog, {type:'log', lc:'#444', fs:12, m:5}),
    ax(2, -25, 325, ticksC_x, String, {lc:'#777', m:7}),
    ax(3, 0.001, 10, ticksD_x, fmtLog, {type:'log', lc:'#444', fs:12.5, m:6}),
    ax(4, -25, 217, ticksE_x, String, {lc:'#777', m:7}),
    ax(5, 0.0001, 10, ticksF_x, fmtLog, {type:'log', lc:'#444', fs:13, m:4}),
    ax(6, 1.3, 28.4, ticksG_x, String, {lc:'#222', fs:12.5, m:5}),
    ax(7, -100, 100, null, String, {interval:50, offset:-69.6, lc:'#555', fs:12, c:'#333', m:7}),
    minorAx(1, 0.1, 10000, -1, 4),
    minorAx(3, 0.001, 10, -3, 1),
    minorAx(5, 0.0001, 10, -4, 1)
  ],
  yAxis:[
    ax(0, -0.079, 0.275, ticksA_y, fmt1, {lc:'#777', m:8}),
    ax(1, -1.1, 103.1, ticksResp, String, {lc:'#444', fs:12, m:4}),
    ax(2, -0.077, 0.545, ticksC_y, fmt1, {lc:'#777', m:8}),
    ax(3, -9.8, 108.5, ticksResp, String, {lc:'#444', fs:12.5, m:4}),
    ax(4, -0.083, 0.355, ticksE_y, fmt1, {lc:'#777', m:9}),
    ax(5, -10.2, 102.2, ticksResp, String, {lc:'#444', fs:13, m:5}),
    ax(6, -2, 3, null, String, {interval:1, lc:'#222', fs:10.5, m:8}),
    ax(7, -2, 3, null, String, {interval:1, offset:-123.3, lc:'#555', fs:12, c:'#333', m:8})
  ],
  legend:[
    leg(269, 94, listA.map(s=>'A:'+s.name), 2.3),
    leg(281, 346, listC.map(s=>'C:'+s.name), 2.9),
    leg(279, 622, listE.map(s=>'E:'+s.name), 2.6)
  ],
  series: series,
  graphic:{elements: graphics}
};
const chart = echarts.init(document.getElementById('c'), null, {renderer:'canvas'});
chart.setOption(option);
</script></body></html>
